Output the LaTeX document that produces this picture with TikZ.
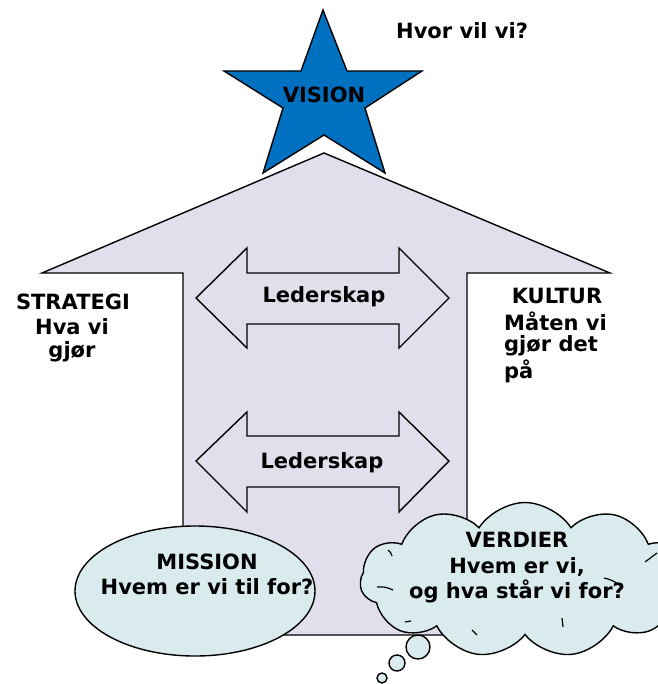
\documentclass[tikz,border=0pt]{standalone}
\usepackage{fontspec}
\setmainfont{DejaVu Sans}
\usetikzlibrary{shapes.symbols}
\definecolor{starblue}{HTML}{0070C0}
\definecolor{arrowfill}{HTML}{E1DFEB}
\definecolor{bubblefill}{HTML}{DAEBEE}
\tikzset{
  outline/.style={draw=black, line width=1.4pt, line join=miter},
  lbl/.style={font=\fontsize{21}{25}\selectfont\bfseries, inner sep=0pt, align=center},
  tick/.style={line width=1.2pt},
}
\begin{document}
\begin{tikzpicture}[x=1pt,y=-1pt]
\useasboundingbox (0,0) rectangle (657,684);
% big arrow
\path[outline, fill=arrowfill] (324,153) -- (610,273) -- (467,273) -- (467,635) -- (183,635) -- (183,273) -- (42,273) -- cycle;
% star
\path[outline, fill=starblue] (323,10) -- (347,71) -- (422,71) -- (365,108) -- (385,173) -- (324,135) -- (263,173) -- (283,108) -- (224,71) -- (301,71) -- cycle;
\node[lbl] (vision) at (324,95) {VISION};
\node[lbl, anchor=west] (hvor) at (396,31) {Hvor vil vi?};
% double arrows
\path[outline, fill=arrowfill] (196,298) -- (247,248) -- (247,273) -- (399,273) -- (399,248) -- (449,298) -- (399,348) -- (399,324) -- (247,324) -- (247,348) -- cycle;
\node[lbl] (led1) at (324,297) {Lederskap};
\path[outline, fill=arrowfill] (196,461) -- (247,412) -- (247,436) -- (399,436) -- (399,412) -- (449,461) -- (399,512) -- (399,487) -- (247,487) -- (247,512) -- cycle;
\node[lbl] (led2) at (322,463) {Lederskap};
% side texts
\node[lbl] (strat) at (73,302) {STRATEGI};
\node[lbl] (strat2) at (72,327) {Hva vi};
\node[lbl] (strat3) at (72,352) {gjør};
\node[lbl] (kult) at (557,296) {KULTUR};
\node[lbl, anchor=west] (kult2) at (504,321) {Måten vi};
\node[lbl, anchor=west] (kult3) at (504,346) {gjør det};
\node[lbl, anchor=west] (kult4) at (504,371) {på};
% mission ellipse
\path[outline, fill=bubblefill] (195,591) ellipse [x radius=120, y radius=65];
\node[lbl] (miss) at (207,562) {MISSION};
\node[lbl] (miss2) at (207,587) {Hvem er vi til for?};
% cloud
\node[cloud, cloud puffs=11, cloud puff arc=115, aspect=2.1, minimum width=330, minimum height=155, outline, fill=bubblefill] (cloud) at (525,580) {};
\draw[tick] (388,550) to[bend left=20] (392,556);
\draw[tick] (377,587) to[bend left=15] (393,590);
\draw[tick] (405,622) -- (411,621);
\draw[tick] (472,630) -- (477,635);
\draw[tick] (562,618) -- (563,627);
\draw[tick] (604,578) to[bend left=15] (623,588);
\draw[tick] (645,562) -- (657,553);
\node[lbl] (verd) at (517,540) {VERDIER};
\node[lbl] (verd2) at (517,567) {Hvem er vi,};
\node[lbl] (verd3) at (517,591) {og hva står vi for?};
% thought bubbles
\path[outline, fill=bubblefill] (418,647) circle (12);
\path[outline, fill=bubblefill] (397,663) circle (8);
\path[outline, fill=bubblefill] (382,678) circle (5);
\end{tikzpicture}
\end{document}
